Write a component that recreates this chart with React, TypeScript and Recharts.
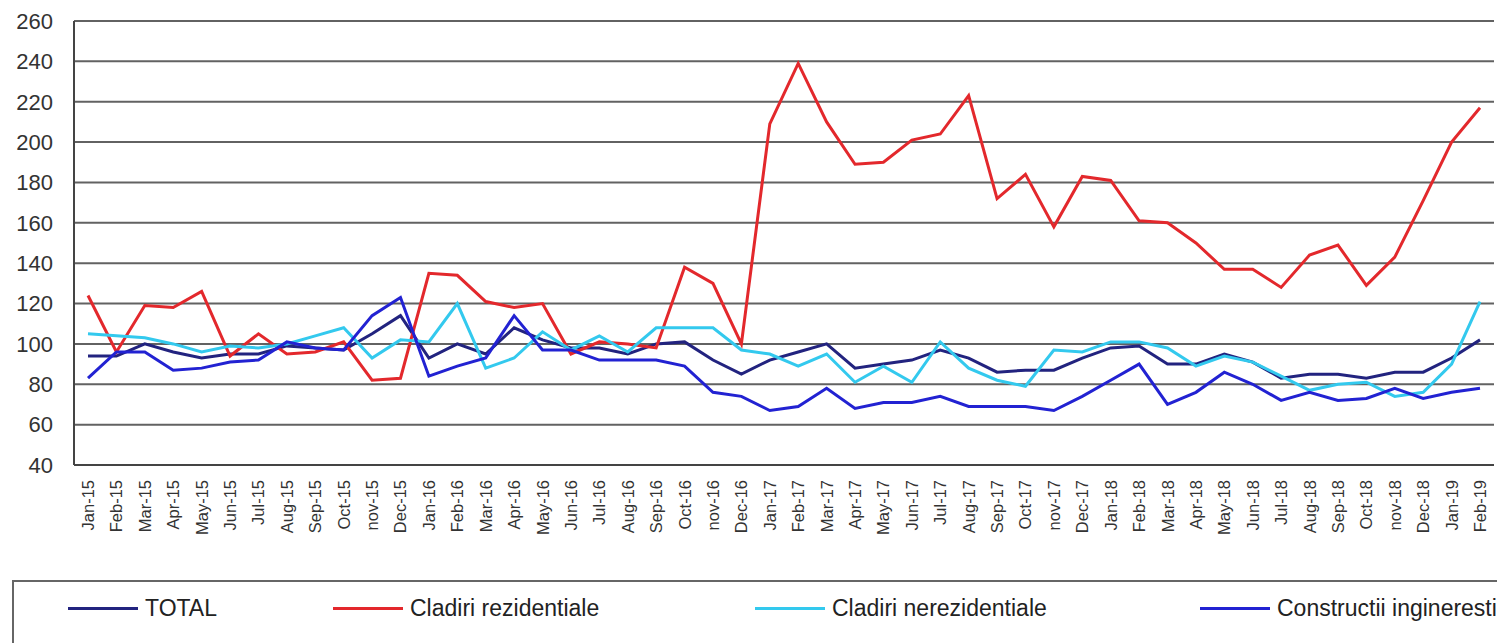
import { CartesianGrid, Line, LineChart, XAxis, YAxis } from "recharts";

const months = [
  "Jan-15", "Feb-15", "Mar-15", "Apr-15", "May-15", "Jun-15", "Jul-15", "Aug-15", "Sep-15", "Oct-15", "nov-15", "Dec-15",
  "Jan-16", "Feb-16", "Mar-16", "Apr-16", "May-16", "Jun-16", "Jul-16", "Aug-16", "Sep-16", "Oct-16", "nov-16", "Dec-16",
  "Jan-17", "Feb-17", "Mar-17", "Apr-17", "May-17", "Jun-17", "Jul-17", "Aug-17", "Sep-17", "Oct-17", "nov-17", "Dec-17",
  "Jan-18", "Feb-18", "Mar-18", "Apr-18", "May-18", "Jun-18", "Jul-18", "Aug-18", "Sep-18", "Oct-18", "nov-18", "Dec-18",
  "Jan-19", "Feb-19",
];

const total = [
  94, 94, 100, 96, 93, 95, 95, 99, 98, 97, 105, 114,
  93, 100, 95, 108, 102, 98, 98, 95, 100, 101, 92, 85,
  92, 96, 100, 88, 90, 92, 97, 93, 86, 87, 87, 93,
  98, 99, 90, 90, 95, 91, 83, 85, 85, 83, 86, 86,
  93, 102,
];

const rezidentiale = [
  124, 96, 119, 118, 126, 94, 105, 95, 96, 101, 82, 83,
  135, 134, 121, 118, 120, 95, 101, 100, 98, 138, 130, 100,
  209, 239, 210, 189, 190, 201, 204, 223, 172, 184, 158, 183,
  181, 161, 160, 150, 137, 137, 128, 144, 149, 129, 143, 171,
  200, 217,
];

const nerezidentiale = [
  105, 104, 103, 100, 96, 99, 98, 100, 104, 108, 93, 102,
  101, 120, 88, 93, 106, 97, 104, 96, 108, 108, 108, 97,
  95, 89, 95, 81, 89, 81, 101, 88, 82, 79, 97, 96,
  101, 101, 98, 89, 94, 91, 84, 77, 80, 81, 74, 76,
  90, 121,
];

const ingineresti = [
  83, 96, 96, 87, 88, 91, 92, 101, 98, 97, 114, 123,
  84, 89, 93, 114, 97, 97, 92, 92, 92, 89, 76, 74,
  67, 69, 78, 68, 71, 71, 74, 69, 69, 69, 67, 74,
  82, 90, 70, 76, 86, 80, 72, 76, 72, 73, 78, 73,
  76, 78,
];

const yTicks = [40, 60, 80, 100, 120, 140, 160, 180, 200, 220, 240, 260];

const series = [
  { key: "total", name: "TOTAL", color: "#22237f" },
  { key: "rez", name: "Cladiri rezidentiale", color: "#e3282c" },
  { key: "nerez", name: "Cladiri nerezidentiale", color: "#33c9ee" },
  { key: "ing", name: "Constructii ingineresti", color: "#2222d2" },
];

const data = months.map((m, i) => ({
  month: m,
  total: total[i],
  rez: rezidentiale[i],
  nerez: nerezidentiale[i],
  ing: ingineresti[i],
}));

const FONT = "'Liberation Sans', Arial, sans-serif";

function MonthTick(props: any) {
  const { x, y, payload } = props;
  return (
    <text
      transform={`translate(${x},${y + 7}) rotate(-90)`}
      textAnchor="end"
      dominantBaseline="central"
      fontSize={16.5}
      fontFamily={FONT}
      fill="#333"
    >
      {payload.value}
    </text>
  );
}

const legendPos = [68, 333, 755, 1200];

export default function App() {
  return (
    <div style={{ position: "absolute", left: 0, top: 0, width: 1497, height: 643, background: "#fff", overflow: "hidden" }}>
      <LineChart width={1497} height={540} data={data} margin={{ top: 21, right: 3, left: 0, bottom: 0 }}>
        <CartesianGrid vertical={false} stroke="#626262" strokeWidth={2} />
        <XAxis
          dataKey="month"
          interval={0}
          height={75}
          padding={{ left: 14, right: 14 }}
          tick={<MonthTick />}
          tickLine={false}
          axisLine={{ stroke: "#444", strokeWidth: 2 }}
        />
        <YAxis
          domain={[40, 260]}
          ticks={yTicks}
          width={74}
          tickLine={false}
          tickMargin={15}
          axisLine={{ stroke: "#444", strokeWidth: 2 }}
          tick={{ fontSize: 22, fill: "#333", fontFamily: FONT }}
        />
        <YAxis yAxisId="r" orientation="right" width={0} tick={false} tickLine={false} axisLine={{ stroke: "#bbb", strokeWidth: 2 }} />
        {series.map((s) => (
          <Line
            key={s.key}
            type="linear"
            dataKey={s.key}
            name={s.name}
            stroke={s.color}
            strokeWidth={3}
            dot={false}
            isAnimationActive={false}
          />
        ))}
      </LineChart>
      <div
        style={{
          position: "absolute",
          left: 12,
          top: 580,
          width: 1520,
          height: 90,
          border: "2px solid #666",
          boxSizing: "border-box",
        }}
      />
      {series.map((s, i) => (
        <div
          key={s.key}
          style={{
            position: "absolute",
            left: legendPos[i],
            top: 594,
            height: 28,
            display: "flex",
            alignItems: "center",
            fontFamily: FONT,
            fontSize: 23,
            color: "#222",
            whiteSpace: "nowrap",
          }}
        >
          <span style={{ display: "inline-block", width: 70, height: 3, background: s.color, marginRight: 7 }} />
          {s.name}
        </div>
      ))}
    </div>
  );
}
